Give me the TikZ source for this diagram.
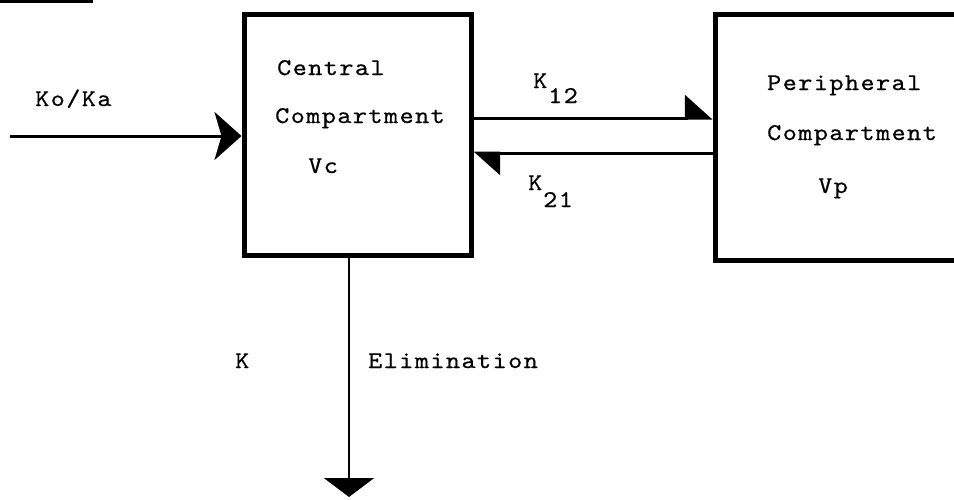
\documentclass[tikz,border=0pt]{standalone}
\usepackage{fontspec}
\usetikzlibrary{arrows.meta}
% wide, spaced-out typewriter face for the labels
\newfontfamily\typewriter{lmmono10-regular.otf}[FakeStretch=1.12, LetterSpace=6, FakeBold=0.6]
\tikzset{
  compbox/.style={draw=black, line width=5pt, minimum width=#1, inner sep=0pt},
  flow/.style={line width=3pt, black},
  label/.style={inner sep=0pt, anchor=base west,
    font=\typewriter\fontsize{24}{28}\selectfont},
}
\begin{document}
\begin{tikzpicture}[x=1pt, y=-1pt]
  \useasboundingbox (0,0) rectangle (954,499);
  \clip (0,0) rectangle (954,499);

  % rule at the top left
  \fill (0,0) rectangle (93,2.5);

  % compartments
  \node[compbox=227pt, minimum height=241pt] (central) at (357.5,134.5) {};
  \node[compbox=300pt, minimum height=246pt] (periph) at (865,137) {};

  % dosing input
  \coordinate (src) at (10,136);
  \draw[flow, -{Stealth[length=27pt, width=48pt, inset=7pt]}] (src) -- (central.west |- src);
  \node[label] (koka) at (35,106) {Ko/Ka};

  % exchange between compartments
  \coordinate (k12) at (600,118);
  \coordinate (k21) at (600,153);
  \draw[flow, -{Triangle[length=26pt, width=46pt, left]}] (central.east |- k12) -- (periph.west |- k12);
  \draw[flow, -{Triangle[length=25pt, width=44pt, left]}] (periph.west |- k21) -- (central.east |- k21);

  % elimination
  \coordinate (sink) at (349,497);
  \draw[line width=2pt, -{Triangle[length=19pt, width=50pt]}] (central.south -| sink) -- (sink);

  % labels
  \node[label] (c1) at (277,75) {Central};
  \node[label] (c2) at (275,123) {Compartment};
  \node[label] (c3) at (308,173) {Vc};
  \node[label] (p1) at (767,90) {Peripheral};
  \node[label] (p2) at (767,140) {Compartment};
  \node[label] (p3) at (818,193) {Vp};
  \node[label] (k12a) at (533,88) {K};
  \node[label] (k12b) at (548,103) {12};
  \node[label] (k21a) at (528,190) {K};
  \node[label] (k21b) at (543,207) {21};
  \node[label] (kel) at (235,368) {K};
  \node[label] (elim) at (368,368) {Elimination};
\end{tikzpicture}
\end{document}
